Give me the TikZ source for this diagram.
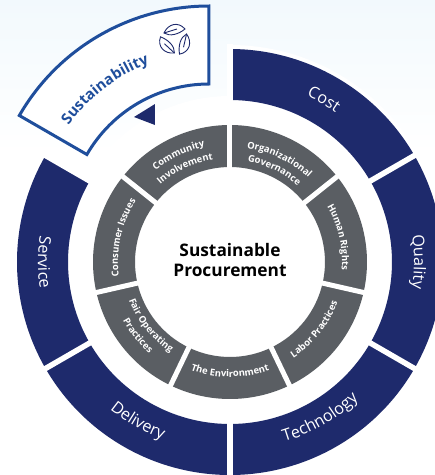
\documentclass[tikz,border=0pt]{standalone}
\usepackage{fontspec}
\setmainfont{Open Sans}
\usetikzlibrary{decorations.text}
\definecolor{wheelnavy}{HTML}{1E2A6C}
\definecolor{wheelgray}{HTML}{5A5E63}
\definecolor{wheelblue}{HTML}{1F4E9C}
\definecolor{wheelpale}{HTML}{F2F9FD}
\tikzset{
  navylabel/.style={decorate,decoration={text along path,text align=center,
    text={|\fontsize{16.2}{16.2}\selectfont\color{white}|#1}}},
  graylabel/.style={decorate,decoration={text along path,text align=center,
    text={|\fontsize{9.4}{9.4}\selectfont\bfseries\color{white}|#1}}},
  sustainlabel/.style={decorate,decoration={text along path,text align=center,
    text={|\fontsize{15}{15}\selectfont\bfseries\color{wheelblue}|#1}}},
  leafline/.style={draw=wheelnavy,line width=0.9pt}
}
\begin{document}
\begin{tikzpicture}[x=1pt,y=1pt]
  \useasboundingbox (-230,-213) rectangle (205,262);
  \clip (-230,-213) rectangle (205,262);
  \fill [top color=wheelpale,bottom color=white] (-230,262) rectangle (205,110);

  % white halo behind the wheel
  \fill [white] (0,0) circle (166);
  \fill [white] (0,0) -- (90:217) arc (90:-210:217) -- cycle;

  % outer ring
  \foreach \a in {90,30,-30,-90,-150}
    \fill [wheelnavy] (\a:213) arc (\a:\a-60:213) -- (\a-60:162) arc (\a-60:\a:162) -- cycle;
  \foreach \a in {90,30,-30,-90,-150,-210}
    \draw [white,line width=5.5pt] (\a:158) -- (\a:218);

  % inner ring
  \foreach \a in {0,...,6}
    \fill [wheelgray] (90-\a*51.4286:137) arc (90-\a*51.4286:90-\a*51.4286-51.4286:137)
      -- (90-\a*51.4286-51.4286:95) arc (90-\a*51.4286-51.4286:90-\a*51.4286:95) -- cycle;
  \foreach \a in {0,...,6}
    \draw [white,line width=5pt] (90-\a*51.4286:92) -- (90-\a*51.4286:140);

  \path [navylabel={Cost}] (90:183) arc (90:30:183);
  \path [navylabel={Quality}] (30:184) arc (30:-30:184);
  \path [navylabel={Technology}] (-90:188) arc (-90:-30:188);
  \path [navylabel={Delivery}] (-150:190) arc (-150:-90:190);
  \path [navylabel={Service}] (150:192) arc (150:210:192);

  \path [graylabel={Organizational}] (90:115) arc (90:38.6:115);
  \path [graylabel={Governance}] (90:102) arc (90:38.6:102);
  \path [graylabel={Human Rights}] (38.6:112) arc (38.6:-12.9:112);
  \path [graylabel={Labor Practices}] (-64.3:115) arc (-64.3:-12.9:115);
  \path [graylabel={The Environment}] (-115.7:115) arc (-115.7:-64.3:115);
  \path [graylabel={Fair Operating}] (-167.1:108) arc (-167.1:-115.7:108);
  \path [graylabel={Practices}] (-167.1:122) arc (-167.1:-115.7:122);
  \path [graylabel={Consumer Issues}] (192.9:112) arc (192.9:141.4:112);
  \path [graylabel={Community}] (141.4:118) arc (141.4:90:118);
  \path [graylabel={Involvement}] (141.4:104) arc (141.4:90:104);

  \node [font=\bfseries\fontsize{17.3}{20}\selectfont,align=center] (title) at (0,2) {Sustainable\\Procurement};

  % pulled out segment
  \begin{scope}[shift={(-21,37)}]
    \draw [line width=3pt,color=wheelblue,fill=white,line join=miter]
      (90:219) arc (90:150:219) -- (150:141) arc (150:90:141) -- cycle;
    \path [sustainlabel={Sustainability}] (161:172) arc (161:94:172);
  \end{scope}
  \fill [wheelnavy] (-75,158) -- (-96,145) -- (-75,137) -- cycle;

  % leaves
  \foreach \r in {0,120,240} {
    \begin{scope}[shift={(-55,222)},rotate=\r]
      \draw [leafline] (-11,7) .. controls (-7,16) and (3,19) .. (10,11) .. controls (4,6) and (-5,3) .. (-11,7) -- cycle;
      \draw [leafline] (-11,7) -- (2,11);
    \end{scope}
  }
\end{tikzpicture}
\end{document}
